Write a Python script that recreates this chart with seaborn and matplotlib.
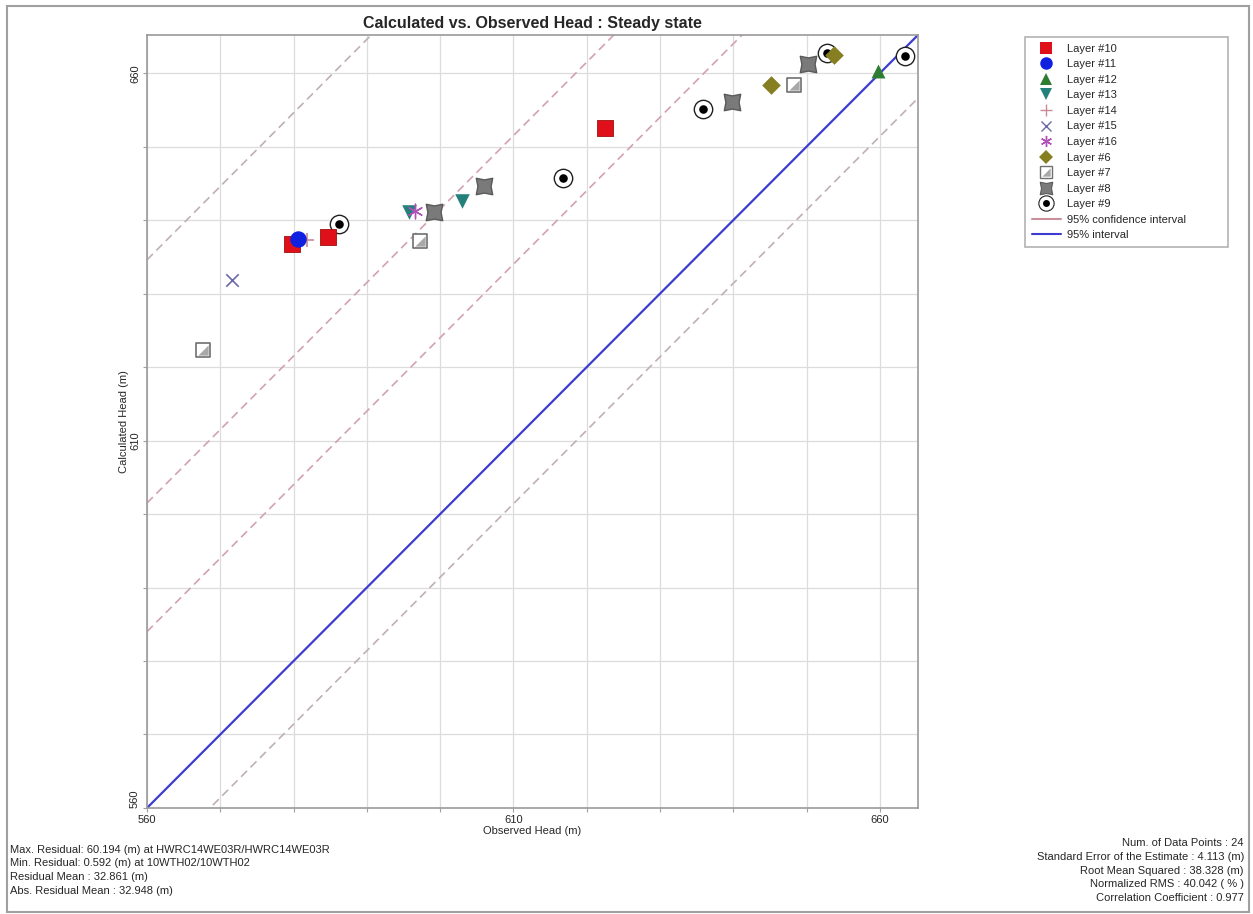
import numpy as np
import pandas as pd
import matplotlib.pyplot as plt
import seaborn as sns
from matplotlib.path import Path
from matplotlib.lines import Line2D
from matplotlib.patches import Rectangle

# ── Data ──────────────────────────────────────────────────────
layer10_obs = [579.8, 584.7, 622.5]
layer10_calc = [636.8, 637.7, 652.6]
layer11_obs = [580.6]
layer11_calc = [637.4]
layer12_obs = [659.7]
layer12_calc = [660.3]
layer13_obs = [595.7, 603.0]
layer13_calc = [641.1, 642.6]
layer14_obs = [581.8]
layer14_calc = [637.3]
layer15_obs = [571.6]
layer15_calc = [631.9]
layer16_obs = [596.6]
layer16_calc = [641.2]
layer6_obs = [645.1, 653.7]
layer6_calc = [658.4, 662.5]
layer7_obs = [567.6, 597.2, 648.3]
layer7_calc = [622.3, 637.1, 658.4]
layer8_obs = [599.1, 606.0, 639.8, 650.2]
layer8_calc = [641.1, 644.6, 656.1, 661.2]
layer9_obs = [586.2, 616.8, 635.9, 652.8, 663.5]
layer9_calc = [639.5, 645.8, 655.1, 662.7, 662.3]

conf_offsets = [74.6, 41.5, 24.0, -8.6]   # dashed lines, calc = obs + offset
axis_min, axis_max = 560, 665.2

stats_left = [
    "Max. Residual: 60.194 (m) at HWRC14WE03R/HWRC14WE03R",
    "Min. Residual: 0.592 (m) at 10WTH02/10WTH02",
    "Residual Mean : 32.861 (m)",
    "Abs. Residual Mean : 32.948 (m)",
]
stats_right = [
    "Num. of Data Points : 24",
    "Standard Error of the Estimate : 4.113 (m)",
    "Root Mean Squared : 38.328 (m)",
    "Normalized RMS : 40.042 ( % )",
    "Correlation Coefficient : 0.977",
]

# ── Marker shapes ─────────────────────────────────────────────
star_sq = Path([(-1, -1), (0, -0.8), (1, -1), (0.8, 0), (1, 1), (0, 0.8),
                (-1, 1), (-0.8, 0), (-1, -1)],
               [Path.MOVETO] + [Path.LINETO] * 7 + [Path.CLOSEPOLY])
half_tri = Path([(1, -1), (1, 1), (-1, -1), (1, -1)],
                [Path.MOVETO, Path.LINETO, Path.LINETO, Path.CLOSEPOLY])

sns.set_theme(style="whitegrid")
plt.rcParams["font.family"] = ["Liberation Sans", "DejaVu Sans"]

fig = plt.figure(figsize=(12.53, 9.14), dpi=100)
ax = fig.add_axes([0.1173, 0.116, 0.6153, 0.8457])

# reference lines
grid_x = np.array([axis_min, axis_max])
for off in conf_offsets:
    col = "#d2a2b0" if off in (41.5, 24.0) else "#bfb0b6"
    ax.plot(grid_x, grid_x + off, ls=(0, (5, 3)), color=col, lw=1.2, zorder=2)
ax.plot(grid_x, grid_x, color="#3c3cd0", lw=1.6, zorder=2)

def layer_df(obs, calc):
    return pd.DataFrame({"obs": obs, "calc": calc})

kw = dict(x="obs", y="calc", ax=ax, legend=False, zorder=5)
sns.scatterplot(data=layer_df(layer7_obs, layer7_calc), marker="s", s=95,
                color="white", edgecolor="#707070", linewidth=1.2, **kw)
sns.scatterplot(data=layer_df(layer7_obs, layer7_calc), marker=half_tri, s=55,
                color="#a8a8a8", edgecolor="#a8a8a8", linewidth=0, **kw)
sns.scatterplot(data=layer_df(layer8_obs, layer8_calc), marker=star_sq, s=140,
                color="#7a7a7a", edgecolor="#5a5a5a", linewidth=1, **kw)
sns.scatterplot(data=layer_df(layer9_obs, layer9_calc), marker="o", s=175,
                color="white", edgecolor="#202020", linewidth=1, **kw)
sns.scatterplot(data=layer_df(layer9_obs, layer9_calc), marker="o", s=38,
                color="black", edgecolor="black", linewidth=0, **kw)
sns.scatterplot(data=layer_df(layer6_obs, layer6_calc), marker="D", s=90,
                color="#857f22", edgecolor="#857f22", linewidth=0, **kw)
sns.scatterplot(data=layer_df(layer10_obs, layer10_calc), marker="s", s=130,
                color="#e0101a", edgecolor="#a01010", linewidth=0.6, **kw)
sns.scatterplot(data=layer_df(layer14_obs, layer14_calc), marker="+", s=110,
                color="#c88a95", linewidth=1.2, **kw)
sns.scatterplot(data=layer_df(layer11_obs, layer11_calc), marker="o", s=140,
                color="#1020e0", edgecolor="#1020e0", linewidth=0, **kw)
sns.scatterplot(data=layer_df(layer12_obs, layer12_calc), marker="^", s=100,
                color="#2e7d32", edgecolor="#2e7d32", linewidth=0, **kw)
sns.scatterplot(data=layer_df(layer13_obs, layer13_calc), marker="v", s=110,
                color="#23807a", edgecolor="#23807a", linewidth=0, **kw)
sns.scatterplot(data=layer_df(layer15_obs, layer15_calc), marker="x", s=80,
                color="#6a6aa8", linewidth=1.2, **kw)
sns.scatterplot(data=layer_df(layer16_obs, layer16_calc), marker=(6, 2, 0), s=110,
                color="#b050b8", linewidth=1.0, **kw)

# axes styling
ax.set_xlim(axis_min, axis_max)
ax.set_ylim(axis_min, axis_max)
ticks = np.arange(560, 670, 10)
labels = [str(t) if t in (560, 610, 660) else "" for t in ticks]
ax.set_xticks(ticks, labels)
ax.set_yticks(ticks, labels)
ax.tick_params(axis="both", which="major", labelsize=8, length=3, width=0.8,
               color="#a0a0a0", pad=2, bottom=True, left=True)
plt.setp(ax.get_yticklabels(), rotation=90, va="center")
ax.get_yticklabels()[0].set_va("bottom")
ax.grid(True, color="#dcdcdc", lw=0.9)
for sp in ax.spines.values():
    sp.set_color("#9a9a9a")
    sp.set_linewidth(1.2)
ax.set_xlabel("Observed Head (m)", fontsize=8, labelpad=1)
ax.set_ylabel("Calculated Head (m)", fontsize=8, labelpad=1)
ax.set_title("Calculated vs. Observed Head : Steady state", fontsize=11.5,
             fontweight="bold", pad=5)

# legend
def mk(marker, face, edge=None, size=9, lw=0, ls="none"):
    return Line2D([], [], marker=marker, markerfacecolor=face,
                  markeredgecolor=edge or face, markersize=size,
                  markeredgewidth=lw, linestyle=ls, color=face)

handles = [
    mk("s", "#e0101a", size=8),
    mk("o", "#1020e0", size=9),
    mk("^", "#2e7d32", size=8),
    mk("v", "#23807a", size=8),
    mk("+", "#c88a95", size=9, lw=1),
    mk("x", "#6a6aa8", size=7, lw=1),
    mk((6, 2, 0), "#b050b8", size=8, lw=1),
    mk("D", "#857f22", size=7),
    (mk("s", "white", "#707070", size=8, lw=1), mk(half_tri, "#a8a8a8", size=6)),
    mk(star_sq, "#7a7a7a", "#5a5a5a", size=9, lw=0.8),
    (mk("o", "white", "#202020", size=11, lw=0.8), mk("o", "black", size=5)),
    Line2D([], [], color="#c9909c", lw=1.5),
    Line2D([], [], color="#3c3cd0", lw=1.5),
]
names = ["Layer #10", "Layer #11", "Layer #12", "Layer #13", "Layer #14",
         "Layer #15", "Layer #16", "Layer #6", "Layer #7", "Layer #8",
         "Layer #9", "95% confidence interval", "95% interval"]
leg = fig.legend(handles, names, loc="upper left",
                 bbox_to_anchor=(1025 / 1253, 1 - 252 / 914, 203 / 1253, 215 / 914),
                 mode="expand", fontsize=8,
                 frameon=True, fancybox=False, edgecolor="#a0a0a0",
                 labelspacing=0.5, handlelength=2.6, handletextpad=0.6,
                 borderpad=0.6, borderaxespad=0)
leg.get_frame().set_linewidth(1.2)

# stats text
for i, s in enumerate(stats_left):
    fig.text(10 / 1253, 1 - (850 + i * 13.5) / 914, s, fontsize=8,
             ha="left", va="center")
for i, s in enumerate(stats_right):
    fig.text(1244 / 1253, 1 - (843 + i * 13.8) / 914, s, fontsize=8,
             ha="right", va="center")

# outer frame
fig.patches.append(Rectangle((7 / 1253, 2 / 914), 1242 / 1253, 906 / 914,
                             transform=fig.transFigure, fill=False,
                             edgecolor="#a0a0a0", lw=1.5))

fig.savefig("out.png", dpi=100)
